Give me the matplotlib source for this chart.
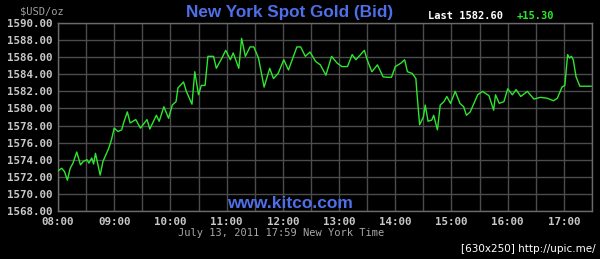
import numpy as np
import matplotlib
matplotlib.use("Agg")
import matplotlib.pyplot as plt

#  DATA (minutes after 08:00, bid price)
MINUTES = [0, 4, 7, 10, 13, 16, 20, 24, 27, 31, 33, 36, 38, 40, 45, 48, 54, 57,
           60, 64, 68, 70, 74, 77, 83, 88, 95, 98, 105, 108, 113, 118, 122, 126,
           128, 134, 137, 143, 146, 150, 153, 157, 160, 166, 169, 175, 179, 184,
           187, 193, 196, 200, 205, 209, 214, 220, 226, 230, 235, 241, 246, 255,
           259, 264, 269, 275, 280, 286, 292, 298, 303, 309, 314, 318, 327, 330,
           335, 341, 347, 351, 356, 360, 366, 370, 373, 378, 382, 383, 386, 390,
           392, 395, 399, 401, 405, 408, 412, 415, 419, 424, 429, 433, 436, 440,
           448, 453, 460, 465, 467, 471, 476, 480, 485, 489, 494, 501, 508, 515,
           522, 529, 533, 538, 541, 544, 546, 548, 550, 553, 557, 569]
PRICES = [1572.7, 1573.0, 1572.6, 1571.6, 1573.0, 1573.6, 1574.9, 1573.4, 1573.8,
          1574.0, 1573.6, 1574.2, 1573.5, 1574.75, 1572.2, 1573.8, 1575.3, 1576.3,
          1577.7, 1577.3, 1577.5, 1578.3, 1579.6, 1578.3, 1578.7, 1577.7, 1578.7,
          1577.6, 1579.2, 1578.5, 1580.2, 1578.85, 1580.4, 1580.8, 1582.4, 1583.1,
          1582.0, 1580.5, 1584.3, 1581.6, 1582.7, 1582.7, 1586.1, 1586.1, 1584.7,
          1585.9, 1586.8, 1585.7, 1586.5, 1584.7, 1588.2, 1586.1, 1587.2, 1587.2,
          1585.9, 1582.5, 1584.7, 1583.5, 1584.1, 1585.7, 1584.5, 1587.2, 1587.2,
          1586.1, 1586.6, 1585.5, 1585.1, 1583.9, 1586.1, 1585.3, 1584.9, 1584.9,
          1586.3, 1585.7, 1586.8, 1585.7, 1584.3, 1585.1, 1583.7, 1583.65, 1583.65,
          1584.9, 1585.3, 1585.7, 1584.3, 1584.1, 1583.5, 1582.0, 1578.1, 1579.0,
          1580.4, 1578.5, 1578.65, 1579.2, 1577.5, 1580.4, 1580.8, 1581.4, 1580.6,
          1582.0, 1580.6, 1580.2, 1579.2, 1579.6, 1581.6, 1582.0, 1581.5, 1579.8,
          1581.6, 1580.6, 1580.8, 1582.3, 1581.6, 1582.2, 1581.4, 1582.0, 1581.1,
          1581.3, 1581.2, 1580.9, 1581.2, 1582.5, 1582.7, 1586.3, 1585.9, 1586.1,
          1585.7, 1583.7, 1582.6, 1582.6]

HOUR_TICKS  = [8, 9, 10, 11, 12, 13, 14, 15, 16, 17]
HOUR_LABELS = [f"{h:02d}:00" for h in HOUR_TICKS]
PRICE_TICKS = list(range(1568, 1591, 2))

TITLE     = "New York Spot Gold (Bid)"
LAST      = "Last 1582.60"
CHANGE    = "+15.30"
STAMP     = "July 13, 2011 17:59 New York Time"

BG    = "black"
GRID  = "#4c4c4c"
TXT   = "#c8c8c8"
BLUE  = "#4f6fe8"
GREEN = "#2ee62e"

hours = 8 + np.array(MINUTES) / 60.0

fig = plt.figure(figsize=(6.0, 2.59), dpi=100, facecolor=BG)
ax = fig.add_axes([58/600, 48/259, 534/600, 188/259], facecolor=BG)

ax.plot(hours, PRICES, color=GREEN, lw=1.0, zorder=3)

ax.set_xlim(8, 17.5)
ax.set_ylim(1568, 1590)
ax.set_xticks(HOUR_TICKS)
ax.set_xticklabels(HOUR_LABELS)
ax.set_xticks(np.arange(8, 17.6, 0.5), minor=True)
ax.set_yticks(PRICE_TICKS)
ax.set_yticklabels([f"{p:.2f}" for p in PRICE_TICKS])
ax.grid(True, which="both", color=GRID, lw=1.0, zorder=1)
ax.tick_params(which="both", length=0, colors=TXT, labelsize=7.8)
ax.tick_params(axis="y", pad=4)
ax.tick_params(axis="x", pad=4)
for lab in ax.get_xticklabels() + ax.get_yticklabels():
    lab.set_fontfamily("DejaVu Sans Mono")
    lab.set_fontweight("bold")
for s in ax.spines.values():
    s.set_color("#6a6a6a")
    s.set_linewidth(1.0)

# header / footer texts
fig.text(290/600, 1 - 12/259, TITLE, color=BLUE, fontsize=12.3, fontweight="bold",
         family="Liberation Sans", ha="center", va="center")
fig.text(42/600, 1 - 11/259, "$USD/oz", color="#a0a0a0", fontsize=7.5,
         family="DejaVu Sans Mono", ha="center", va="center")
fig.text(428/600, 1 - 16/259, LAST, color="white", fontsize=7.5, fontweight="bold",
         family="DejaVu Sans Mono", ha="left", va="center")
fig.text(517/600, 1 - 16/259, CHANGE, color=GREEN, fontsize=7.5, fontweight="bold",
         family="DejaVu Sans Mono", ha="left", va="center")
fig.text(290/600, 1 - 204/259, "www.kitco.com", color=BLUE, fontsize=12.5, fontweight="bold",
         family="Liberation Sans", ha="center", va="center")
fig.text(281/600, 1 - 233/259, STAMP, color="#a8a8a8", fontsize=7.5,
         family="DejaVu Sans Mono", ha="center", va="center")
fig.text(596/600, 1 - 249/259, "[630x250] http://upic.me/", color="white", fontsize=7.5,
         family="DejaVu Sans", ha="right", va="center")

fig.savefig("out.png", dpi=100, facecolor=BG)
